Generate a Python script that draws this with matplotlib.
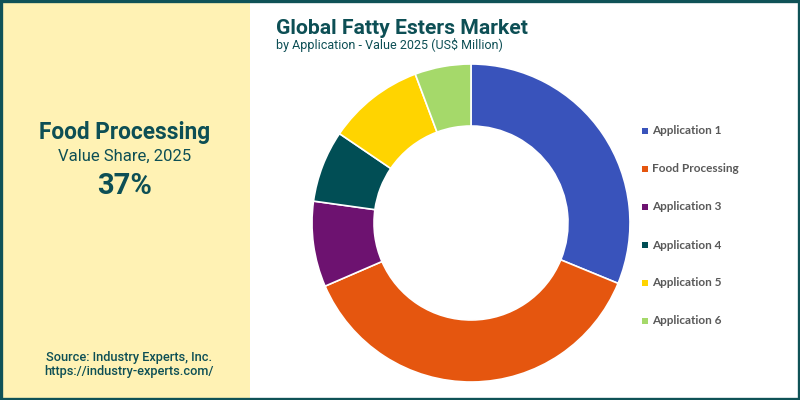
import matplotlib
matplotlib.use("Agg")
import matplotlib.pyplot as plt
from matplotlib.patches import Rectangle

# data
labels = ["Application 1", "Food Processing", "Application 3",
          "Application 4", "Application 5", "Application 6"]
shares = [31.2, 37.3, 8.7, 7.3, 9.8, 5.7]
colors = ["#3953BB", "#E5560F", "#6D1270", "#014E55", "#FFD400", "#A5D96A"]

title = "Global Fatty Esters Market"
subtitle = "by Application - Value 2025 (US$ Million)"
hl_name = "Food Processing"
hl_sub = "Value Share, 2025"
hl_value = "37%"
source = ["Source: Industry Experts, Inc.", "https://industry-experts.com/"]

teal = "#0D4F55"
W, H = 800, 400

fig = plt.figure(figsize=(8, 4), dpi=100)
fig.patch.set_facecolor("white")

# left yellow panel
fig.patches.append(Rectangle((0, 0), 250 / W, 1, transform=fig.transFigure,
                             facecolor="#FFF2B4", edgecolor="none", zorder=0))
# outer frame
fig.patches.append(Rectangle((0.0015, 0.003), 0.997, 0.994, transform=fig.transFigure,
                             facecolor="none", edgecolor="#0F5257", linewidth=2.4, zorder=5))

fig.text(125 / W, 1 - 133 / H, hl_name, ha="center", va="center",
         fontsize=16.3, fontweight="bold", color=teal, family="Roboto")
fig.text(125 / W, 1 - 156 / H, hl_sub, ha="center", va="center",
         fontsize=12, color=teal, family="Roboto")
fig.text(125 / W, 1 - 186 / H, hl_value, ha="center", va="center",
         fontsize=21, fontweight="bold", color=teal, family="Roboto")
fig.text(129 / W, 1 - 357 / H, source[0], ha="center", va="center",
         fontsize=9.2, fontweight="medium", color=teal, family="Roboto")
fig.text(129 / W, 1 - 372 / H, source[1], ha="center", va="center",
         fontsize=9.2, fontweight="medium", color=teal, family="Roboto")

fig.text(276 / W, 1 - 28 / H, title, ha="left", va="center",
         fontsize=15.2, fontweight="bold", color=teal, family="Roboto")
fig.text(276 / W, 1 - 45 / H, subtitle, ha="left", va="center",
         fontsize=9, color=teal, family="Roboto")

# donut
cx, cy, r = 471, 223, 159
ax = fig.add_axes([(cx - r) / W, 1 - (cy + r) / H, 2 * r / W, 2 * r / H])
ax.pie(shares, colors=colors, startangle=90, counterclock=False,
       wedgeprops=dict(width=0.39, edgecolor="white", linewidth=1.2))
ax.set_xlim(-1, 1)
ax.set_ylim(-1, 1)
ax.set_aspect("equal")
ax.axis("off")

# legend
for i, (lab, col) in enumerate(zip(labels, colors)):
    y = 131 + 38 * i
    fig.patches.append(Rectangle((642 / W, 1 - (y + 3) / H), 6 / W, 6 / H,
                                 transform=fig.transFigure, facecolor=col,
                                 edgecolor="none"))
    fig.text(652 / W, 1 - y / H, lab, ha="left", va="center",
             fontsize=8.5, fontweight="bold", color="#595959", family="Lato")

fig.savefig("out.png", dpi=100)
